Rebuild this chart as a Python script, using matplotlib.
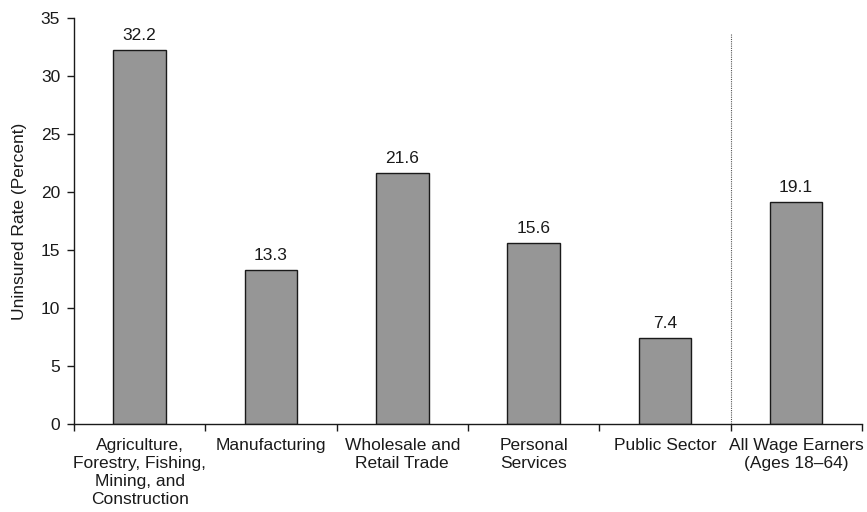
import numpy as np
import matplotlib.pyplot as plt

plt.rcParams['font.family'] = ['Liberation Sans', 'DejaVu Sans']

# Uninsured rate by industry of employment
categories = [
    'Agriculture,\nForestry, Fishing,\nMining, and\nConstruction',
    'Manufacturing',
    'Wholesale and\nRetail Trade',
    'Personal\nServices',
    'Public Sector',
    'All Wage Earners\n(Ages 18\u201364)',
]
rates = [32.2, 13.3, 21.6, 15.6, 7.4, 19.1]

fig = plt.figure(figsize=(8.67, 5.12), dpi=100)
ax = fig.add_axes([0.0854, 0.172, 0.9086, 0.793])

x = np.arange(len(categories))
ax.bar(x, rates, width=0.4, color='#969696', edgecolor='#1a1a1a', linewidth=1.0, zorder=2)

for xi, v in zip(x, rates):
    ax.text(xi, v + 0.6, f'{v:.1f}', ha='center', va='bottom', fontsize=12.5, color='#1a1a1a')

# dotted separator before the all-earners bar
ax.plot([4.5, 4.5], [0, 33.7], color='#555555', linestyle=(0, (1, 1)), linewidth=0.8, zorder=1)

ax.set_xlim(-0.5, len(categories) - 0.5)
ax.set_ylim(0, 35)
ax.set_yticks(np.arange(0, 36, 5))

ax.set_xticks(x)
ax.set_xticklabels(categories, fontsize=12.5, color='#1a1a1a', linespacing=1.25)
ax.set_xticks(np.arange(-0.5, len(categories)), minor=True)
ax.tick_params(axis='x', which='major', length=0, pad=10)
ax.tick_params(axis='x', which='minor', length=5, width=1.0, color='#1a1a1a')
ax.tick_params(axis='y', length=5, width=1.0, labelsize=12.5, colors='#1a1a1a', pad=5)

ax.set_ylabel('Uninsured Rate (Percent)', fontsize=12.5, color='#1a1a1a', labelpad=10)

for side in ['top', 'right']:
    ax.spines[side].set_visible(False)
for side in ['left', 'bottom']:
    ax.spines[side].set_color('#1a1a1a')
    ax.spines[side].set_linewidth(1.0)

fig.savefig('out.png', dpi=100)
